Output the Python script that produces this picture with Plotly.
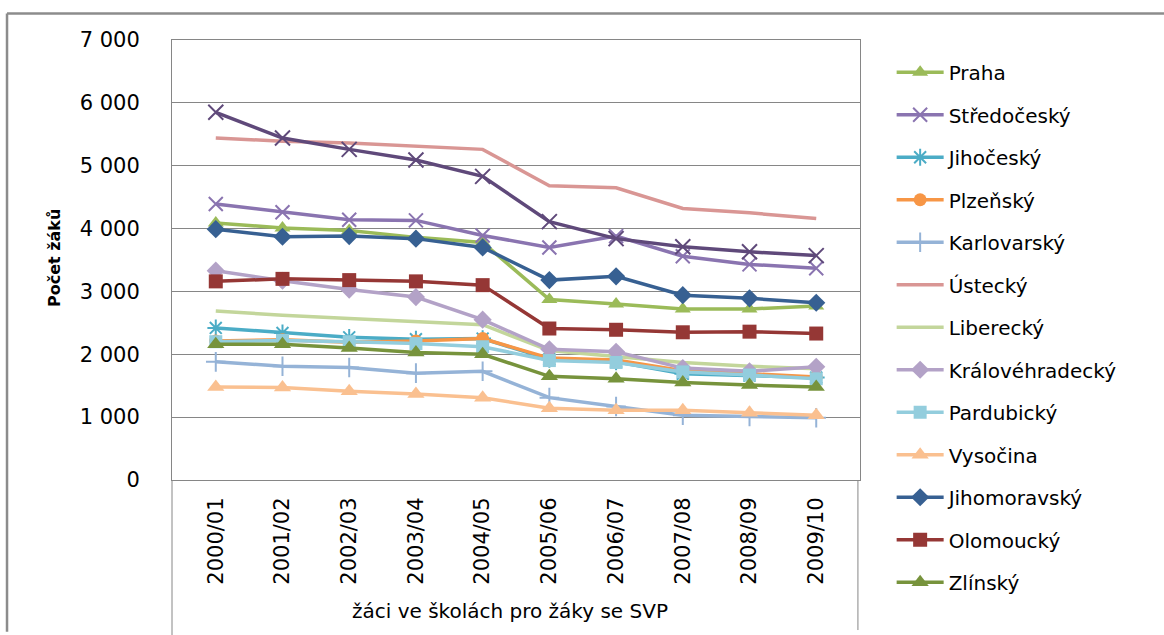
import plotly.graph_objects as go

categories = ["2000/01", "2001/02", "2002/03", "2003/04", "2004/05",
              "2005/06", "2006/07", "2007/08", "2008/09", "2009/10"]

praha = [4090, 4010, 3970, 3860, 3780, 2870, 2800, 2720, 2720, 2770]
stredocesky = [4390, 4260, 4140, 4130, 3890, 3700, 3880, 3560, 3430, 3370]
jihocesky = [2420, 2340, 2270, 2240, 2250, 1920, 1880, 1690, 1660, 1630]
plzensky = [2210, 2230, 2190, 2210, 2250, 1940, 1910, 1740, 1690, 1640]
karlovarsky = [1880, 1810, 1790, 1700, 1730, 1310, 1170, 1030, 1010, 990]
ustecky = [5440, 5390, 5360, 5310, 5260, 4680, 4650, 4320, 4250, 4160]
liberecky = [2690, 2620, 2570, 2520, 2470, 2060, 1970, 1870, 1810, 1770]
kralovehradecky = [3330, 3170, 3030, 2910, 2550, 2080, 2040, 1780, 1730, 1800]
pardubicky = [2200, 2220, 2200, 2170, 2120, 1900, 1870, 1720, 1670, 1610]
vysocina = [1480, 1470, 1410, 1370, 1310, 1140, 1110, 1110, 1070, 1030]
jihomoravsky = [3990, 3870, 3880, 3840, 3700, 3180, 3240, 2940, 2890, 2820]
olomoucky = [3160, 3200, 3180, 3160, 3100, 2410, 2390, 2350, 2360, 2330]
zlinsky = [2160, 2160, 2100, 2030, 2000, 1650, 1610, 1550, 1510, 1480]
moravskoslezsky = [5850, 5440, 5260, 5090, 4830, 4110, 3840, 3710, 3630, 3570]

y_tick_values = [0, 1000, 2000, 3000, 4000, 5000, 6000, 7000]
y_tick_labels = ["0", "1 000", "2 000", "3 000", "4 000", "5 000", "6 000", "7 000"]

# name, values, color, marker symbol, marker size, show in legend
series = [
    ("Praha", praha, "#9BBB59", "triangle-up", 14, True),
    ("Středočeský", stredocesky, "#8A74B0", "x-thin", 14, True),
    ("Jihočeský", jihocesky, "#4BACC6", "asterisk", 14, True),
    ("Plzeňský", plzensky, "#F79646", "circle", 13, True),
    ("Karlovarský", karlovarsky, "#95B3D7", "cross-thin", 14, True),
    ("Ústecký", ustecky, "#D99694", None, 0, True),
    ("Liberecký", liberecky, "#C3D69B", None, 0, True),
    ("Královéhradecký", kralovehradecky, "#B3A2C7", "diamond", 14, True),
    ("Pardubický", pardubicky, "#93CDDD", "square", 13, True),
    ("Vysočina", vysocina, "#FAC090", "triangle-up", 15, True),
    ("Jihomoravský", jihomoravsky, "#376092", "diamond", 14, True),
    ("Olomoucký", olomoucky, "#953735", "square", 14, True),
    ("Zlínský", zlinsky, "#77933C", "triangle-up", 15, True),
    ("Moravskoslezský", moravskoslezsky, "#5F497A", "x-thin", 15, False),
]

fig = go.Figure()
for i, (name, vals, color, symbol, size, show) in enumerate(series):
    if symbol is None:
        fig.add_trace(go.Scatter(
            x=categories, y=vals, name=name, mode="lines",
            line=dict(color=color, width=3.5),
            legendgroup=f"g{i}", showlegend=show))
    else:
        thin = symbol in ("x-thin", "cross-thin", "asterisk")
        fig.add_trace(go.Scatter(
            x=categories, y=vals, name=name, mode="lines+markers",
            line=dict(color=color, width=3.5),
            marker=dict(symbol=symbol, size=size, color=color,
                        line=dict(color=color, width=2 if thin else 0)),
            legendgroup=f"g{i}", showlegend=show))

grid = "#868686"
fig.update_layout(
    width=1164, height=635,
    margin=dict(l=172, r=304, t=40, b=155),
    paper_bgcolor="white", plot_bgcolor="white",
    font=dict(family="DejaVu Sans", size=20, color="#000000"),
    legend=dict(x=1.046, xanchor="left", y=0.971, yanchor="top",
                font=dict(family="DejaVu Sans", size=20),
                tracegroupgap=13.5, itemwidth=47, bgcolor="rgba(0,0,0,0)",
                maxheight=1000),
    showlegend=True,
)
fig.update_xaxes(
    type="category", tickangle=-90,
    tickfont=dict(family="DejaVu Sans", size=21),
    ticks="outside", ticklen=8, tickcolor="rgba(0,0,0,0)",
    showline=True, linecolor=grid, linewidth=1, mirror=True,
    showgrid=False, zeroline=False,
)
fig.update_yaxes(
    range=[0, 7000], tickvals=y_tick_values, ticktext=y_tick_labels,
    tickfont=dict(family="DejaVu Sans", size=21),
    ticks="outside", ticklen=27, tickcolor="rgba(0,0,0,0)",
    showgrid=True, gridcolor=grid, gridwidth=1,
    showline=True, linecolor=grid, linewidth=1, mirror=True,
    zeroline=False,
)

fig.add_annotation(text="<b>Počet žáků</b>", xref="paper", yref="paper",
                   x=-0.1715, y=0.5045, xanchor="center", yanchor="middle",
                   textangle=-90, showarrow=False,
                   font=dict(family="DejaVu Sans", size=16))
fig.add_annotation(text="žáci ve školách pro žáky se SVP", xref="paper", yref="paper",
                   x=0.491, y=-0.2977, xanchor="center", yanchor="middle",
                   showarrow=False, font=dict(family="DejaVu Sans", size=20))

frame = "#8C8C8C"
# category label box
fig.add_shape(type="line", xref="paper", yref="paper", x0=0, x1=0, y0=0, y1=-0.36,
              line=dict(color=grid, width=1))
fig.add_shape(type="line", xref="paper", yref="paper", x0=0.997, x1=0.997, y0=0, y1=-0.341,
              line=dict(color=grid, width=1))
# outer chart frame
fig.add_shape(type="line", xref="paper", yref="paper", x0=-0.2398, x1=-0.2398,
              y0=-0.345, y1=1.060, line=dict(color=frame, width=2.5))
fig.add_shape(type="line", xref="paper", yref="paper", x0=-0.2398, x1=1.45,
              y0=1.060, y1=1.060, line=dict(color=frame, width=2.5))

fig.write_html("out.html", config={"displayModeBar": False},
               post_script="document.body.style.margin='0px';")
